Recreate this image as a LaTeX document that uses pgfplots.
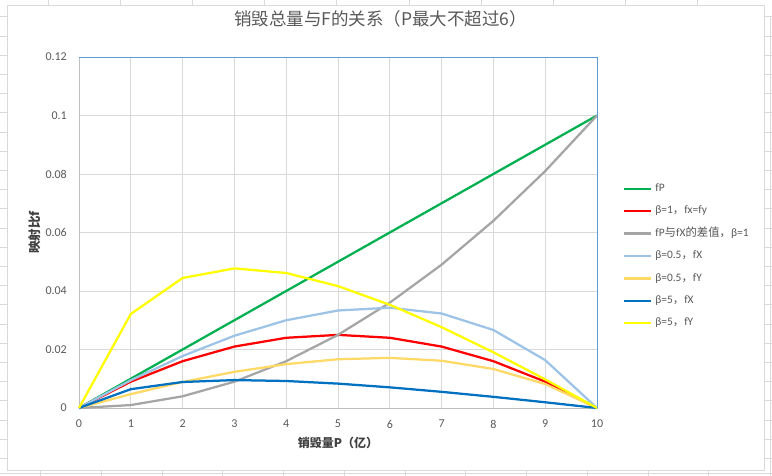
\documentclass[border=0pt]{standalone}
\usepackage{fontspec}
\setmainfont{Carlito}
\newfontfamily\cjk{Noto Sans CJK SC}
\usepackage{pgfplots}
\pgfplotsset{compat=1.18}
\definecolor{cGreen}{HTML}{00B050}
\definecolor{cRed}{HTML}{FF0000}
\definecolor{cGray}{HTML}{A5A5A5}
\definecolor{cLBlue}{HTML}{9DC3E6}
\definecolor{cLOrange}{HTML}{FFD966}
\definecolor{cDBlue}{HTML}{0070C0}
\definecolor{cYellow}{HTML}{FFFF00}
\definecolor{gridc}{HTML}{D9D9D9}
\definecolor{axisc}{HTML}{BFBFBF}
\definecolor{txt}{HTML}{595959}
\definecolor{ttl}{HTML}{404040}
\definecolor{frameblue}{HTML}{5B9BD5}

\begin{document}
\begin{tikzpicture}[x=1pt,y=1pt]
\path[use as bounding box] (0,0) rectangle (772,476);
\fill[white] (0,0) rectangle (772,476);
% spreadsheet background
\foreach \yy in {17,36.2,...,470} {
  \draw[gridc, line width=1pt] (0,{476-\yy}) -- (7.5,{476-\yy});
  \draw[gridc, line width=1pt] (764,{476-\yy}) -- (772,{476-\yy});
}
\foreach \xx in {48,120.2,...,700} {\draw[gridc, line width=1pt] (\xx,470.5) -- (\xx,476);}
\foreach \xx in {40.7,101.45,...,720} {\draw[gridc, line width=1pt] (\xx,0) -- (\xx,5.3);}
\draw[gridc, line width=1pt] (0,2) -- (772,2);
\draw[gridc, line width=1pt] (770,0) -- (770,459);
\draw[gridc, line width=1pt, fill=white] (7.5,5.3) rectangle (764,470.5);

\begin{axis}[
  at={(79pt,68pt)}, anchor=south west, scale only axis,
  width=518pt, height=351pt,
  xmin=0, xmax=10, ymin=0, ymax=0.12,
  clip=false,
  xtick={0,1,2,3,4,5,6,7,8,9,10},
  xticklabels={0,1,2,3,4,5,6,7,8,9,10},
  ytick={0,0.02,0.04,0.06,0.08,0.1,0.12},
  yticklabels={0,0.02,0.04,0.06,0.08,0.1,0.12},
  major tick length=0pt,
  grid=major,
  major grid style={gridc, line width=0.75pt},
  axis line style={axisc, line width=0.75pt},
  ticklabel style={font=\fontsize{12}{14}\selectfont, color=txt},
  yticklabel style={inner sep=0pt, xshift=-12pt},
  xticklabel style={inner sep=0pt, yshift=-12pt},
  title={销毁总量与F的关系（P最大不超过6）},
  title style={at={(0.582,1.091)}, anchor=center, inner sep=0pt,
    font=\cjk\fontsize{17.5}{20}\selectfont, color=txt},
  xlabel={销毁量P（亿）},
  xlabel style={at={(0.5,-0.0997)}, anchor=center, inner sep=0pt,
    font=\cjk\bfseries\fontsize{12}{14}\selectfont, color=ttl},
  ylabel={映射比f},
  ylabel style={at={(-0.085,0.5)}, anchor=center, inner sep=0pt,
    font=\cjk\bfseries\fontsize{12.5}{14}\selectfont, color=ttl},
  legend style={at={(1.05,0.433)}, anchor=west, draw=none, fill=none,
    font=\fontsize{11.4}{14}\selectfont, text=txt,
    inner sep=0pt, row sep=11.2pt, column sep=3pt,
    nodes={inner sep=0pt, text height=8.2pt, text depth=3pt}},
  legend cell align=left,
  legend image code/.code={\draw[#1, line width=2.25pt] (0pt,0pt) -- (27pt,0pt);},
  every axis plot/.append style={line width=2.25pt, line join=round, no markers},
]
\addplot[cGreen] coordinates {(0,0)(1,0.01)(2,0.02)(3,0.03)(4,0.04)(5,0.05)(6,0.06)(7,0.07)(8,0.08)(9,0.09)(10,0.1)};
\addlegendentry{fP}
\addplot[cRed] coordinates {(0,0)(1,0.009)(2,0.016)(3,0.021)(4,0.024)(5,0.025)(6,0.024)(7,0.021)(8,0.016)(9,0.009)(10,0)};
\addlegendentry{β=1{\cjk ，}fx=fy}
\addplot[cGray] coordinates {(0,0)(1,0.001)(2,0.004)(3,0.009)(4,0.016)(5,0.025)(6,0.036)(7,0.049)(8,0.064)(9,0.081)(10,0.1)};
\addlegendentry{fP{\cjk 与}fX{\cjk 的差值，}β=1}
\addplot[cLBlue] coordinates {(0,0)(1,0.009474)(2,0.017778)(3,0.024706)(4,0.03)(5,0.033333)(6,0.034286)(7,0.032308)(8,0.026667)(9,0.016364)(10,0)};
\addlegendentry{β=0.5{\cjk ，}fX}
\addplot[cLOrange] coordinates {(0,0)(1,0.004737)(2,0.008889)(3,0.012353)(4,0.015)(5,0.016667)(6,0.017143)(7,0.016154)(8,0.013333)(9,0.008182)(10,0)};
\addlegendentry{β=0.5{\cjk ，}fY}
\addplot[cDBlue] coordinates {(0,0)(1,0.006429)(2,0.008889)(3,0.009545)(4,0.009231)(5,0.008333)(6,0.007059)(7,0.005526)(8,0.00381)(9,0.001957)(10,0)};
\addlegendentry{β=5{\cjk ，}fX}
\addplot[cYellow] coordinates {(0,0)(1,0.032143)(2,0.044444)(3,0.047727)(4,0.046154)(5,0.041667)(6,0.035294)(7,0.027632)(8,0.019048)(9,0.009783)(10,0)};
\addlegendentry{β=5{\cjk ，}fY}
\draw[frameblue, line width=0.75pt] (rel axis cs:0,1) -- (rel axis cs:1,1) -- (rel axis cs:1,0);
\end{axis}
\end{tikzpicture}
\end{document}
